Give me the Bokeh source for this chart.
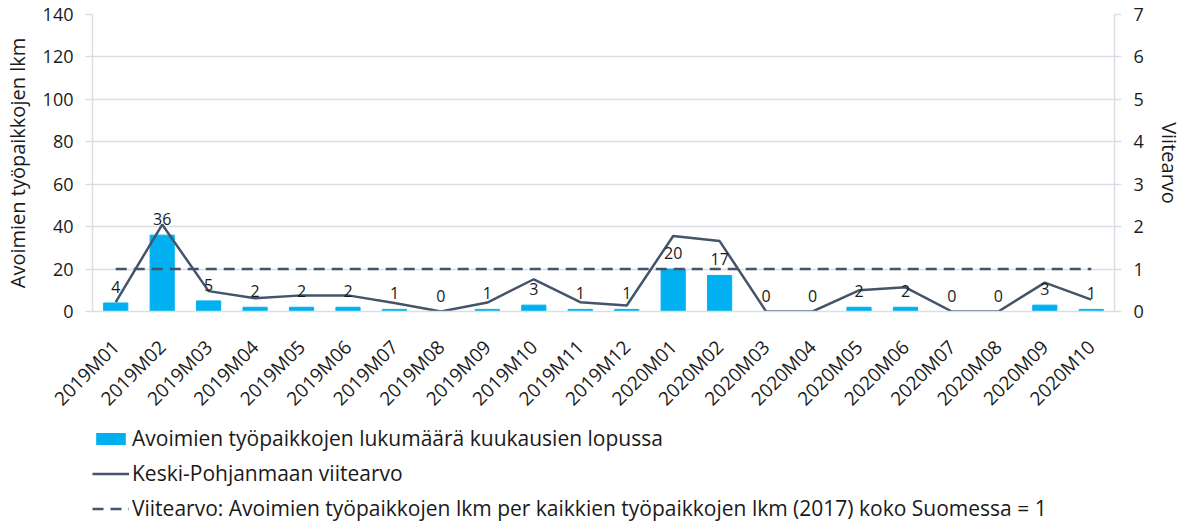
import math
from bokeh.plotting import figure
from bokeh.layouts import column
from bokeh.models import (ColumnDataSource, Range1d, LinearAxis, FixedTicker,
                          Legend, LegendItem, FactorRange)
from bokeh.core.properties import value
from bokeh.embed import file_html
from bokeh.resources import INLINE

months = ["2019M01", "2019M02", "2019M03", "2019M04", "2019M05", "2019M06",
          "2019M07", "2019M08", "2019M09", "2019M10", "2019M11", "2019M12",
          "2020M01", "2020M02", "2020M03", "2020M04", "2020M05", "2020M06",
          "2020M07", "2020M08", "2020M09", "2020M10"]
open_jobs = [4, 36, 5, 2, 2, 2, 1, 0, 1, 3, 1, 1, 20, 17, 0, 0, 2, 2, 0, 0, 3, 1]
regional_index = [0.22, 2.05, 0.48, 0.31, 0.38, 0.38, 0.20, 0.0, 0.21, 0.76, 0.22,
                  0.14, 1.78, 1.66, 0.0, 0.0, 0.50, 0.57, 0.0, 0.0, 0.68, 0.28]
reference_level = [1.0] * len(months)
left_ticks = [0, 20, 40, 60, 80, 100, 120, 140]
right_ticks = [0, 1, 2, 3, 4, 5, 6, 7]

series_names = ["Avoimien työpaikkojen lukumäärä kuukausien lopussa",
                "Keski-Pohjanmaan viitearvo",
                "Viitearvo: Avoimien työpaikkojen lkm per kaikkien työpaikkojen lkm (2017) koko Suomessa = 1"]

FONT = "Open Sans"
TXT = "#1a1a1a"
GRID = "#D9DEE5"
BAR = "#00B0F0"
LINE = "#44546A"

src = ColumnDataSource(dict(month=months, jobs=open_jobs,
                            lbl=[str(v) for v in open_jobs],
                            idx=regional_index, ref=reference_level))

p = figure(x_range=FactorRange(*months), y_range=Range1d(0, 140),
           frame_width=1022, frame_height=297,
           min_border_left=92, min_border_right=0, min_border_top=14,
           min_border_bottom=0,
           output_backend="svg", toolbar_location=None)
p.extra_y_ranges = {"right": Range1d(0, 7)}
p.outline_line_color = None
p.background_fill_color = "white"

bars = p.vbar(x="month", top="jobs", width=0.52, source=src, color=BAR)
ref = p.line(x="month", y="ref", source=src, y_range_name="right",
             line_color=LINE, line_width=2.5, line_dash="11 7")
ln = p.line(x="month", y="idx", source=src, y_range_name="right",
            line_color=LINE, line_width=2.5)
p.text(x="month", y="jobs", text="lbl", source=src, text_align="center",
       text_baseline="middle", y_offset=-16, text_font=value(FONT),
       text_font_size="16px", text_color=TXT)

# axes
p.yaxis.ticker = FixedTicker(ticks=left_ticks)
p.yaxis.axis_label = "Avoimien työpaikkojen lkm"
ax_r = LinearAxis(y_range_name="right", ticker=FixedTicker(ticks=right_ticks),
                  axis_label="Viitearvo")
p.add_layout(ax_r, "right")

for ax in [p.yaxis[0], ax_r]:
    ax.axis_line_color = GRID
    ax.axis_line_width = 1.5
    ax.major_tick_line_color = GRID
    ax.major_tick_line_width = 1.5
    ax.major_tick_out = 7
    ax.major_tick_in = 0
    ax.minor_tick_line_color = None
    ax.major_label_text_font = FONT
    ax.major_label_text_font_size = "18px"
    ax.major_label_text_color = TXT
    ax.major_label_standoff = 12
    ax.axis_label_text_font = FONT
    ax.axis_label_text_font_size = "20px"
    ax.axis_label_text_font_style = "normal"
    ax.axis_label_text_color = TXT
    ax.axis_label_standoff = 9

xa = p.xaxis[0]
xa.axis_line_color = GRID
xa.axis_line_width = 1.5
xa.major_tick_line_color = None
xa.minor_tick_line_color = None
xa.major_label_orientation = math.pi / 4
xa.major_label_text_font = FONT
xa.major_label_text_font_size = "19px"
xa.major_label_text_color = TXT
xa.major_label_standoff = 26

p.xgrid.grid_line_color = None
p.ygrid.grid_line_color = GRID
p.ygrid.grid_line_width = 1.5

# legend in its own strip below the chart (swatch renderers sit below the view)
leg = figure(width=1185, height=110, x_range=Range1d(0, 1), y_range=Range1d(0, 1),
             min_border_left=88, min_border_top=1, min_border_right=0,
             min_border_bottom=0, output_backend="svg", toolbar_location=None)
leg.axis.visible = False
leg.grid.visible = False
leg.outline_line_color = None
r_bar = leg.vbar(x=[0.5], top=[-0.5], bottom=[-1.0], width=0.1,
                 fill_color=BAR, line_alpha=0)
r_ln = leg.line(x=[0, 1], y=[-1, -1], line_color=LINE, line_width=2.5)
r_ref = leg.line(x=[0, 1], y=[-1, -1], line_color=LINE, line_width=2.5,
                 line_dash="11 7")

legend = Legend(items=[LegendItem(label=value(series_names[0]), renderers=[r_bar]),
                       LegendItem(label=value(series_names[1]), renderers=[r_ln]),
                       LegendItem(label=value(series_names[2]), renderers=[r_ref])],
                location="top_left", orientation="vertical",
                glyph_width=37, glyph_height=15, label_height=20,
                label_standoff=3, spacing=7, padding=2, margin=0,
                border_line_color=None, background_fill_alpha=0,
                label_text_font=FONT, label_text_font_size="21px",
                label_text_color=TXT)
leg.add_layout(legend, "center")

layout = column(p, leg, spacing=0)
open("out.html", "w").write(file_html(layout, INLINE))
